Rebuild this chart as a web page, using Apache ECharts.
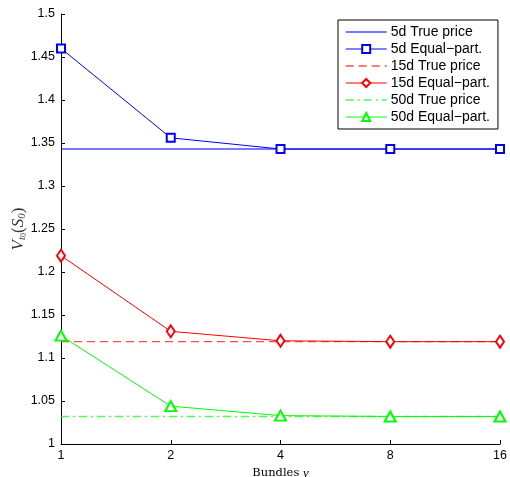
<!DOCTYPE html>
<html>
<head>
<meta charset="utf-8">
<script src="https://cdn.jsdelivr.net/npm/echarts@6/dist/echarts.min.js"></script>
<style>html,body{margin:0;padding:0;background:#fff}#c{width:510px;height:477px}</style>
</head>
<body>
<div id="c"></div>
<script>
const categories = ['1', '2', '4', '8', '16'];
const yTicks = [1, 1.05, 1.1, 1.15, 1.2, 1.25, 1.3, 1.35, 1.4, 1.45, 1.5];
const true5d = [1.343, 1.343, 1.343, 1.343, 1.343];
const eq5d = [1.460, 1.356, 1.343, 1.343, 1.343];
const true15d = [1.119, 1.119, 1.119, 1.119, 1.119];
const eq15d = [1.219, 1.131, 1.120, 1.119, 1.119];
const true50d = [1.032, 1.032, 1.032, 1.032, 1.032];
const eq50d = [1.126, 1.044, 1.033, 1.032, 1.032];

const FONT = 'Liberation Sans, Arial, sans-serif';
const chart = echarts.init(document.getElementById('c'), null, {renderer: 'canvas'});
function lineSeries(name, data, color, type, symbol, size) {
  return {
    name, type: 'line', data,
    symbol: symbol || 'none',
    symbolSize: size || 0,
    showSymbol: !!symbol,
    lineStyle: {color, width: symbol ? 1 : 1.4, type: type || 'solid', opacity: symbol ? 1 : 0.7},
    itemStyle: {color, borderColor: color, borderWidth: 0.9},
    emphasis: {disabled: true},
    animation: false,
    z: symbol ? 3 : 2
  };
}
const hidden = {opacity: 0};
chart.setOption({
  backgroundColor: '#fff',
  animation: false,
  grid: {left: 61, right: 10, top: 14, bottom: 33, outerBoundsMode: 'none', containLabel: false},
  legend: {
    left: 338, top: 20, orient: 'vertical',
    backgroundColor: '#fff', borderColor: '#000', borderWidth: 1,
    padding: [5, 8, 5, 7], itemGap: 3, itemWidth: 41, itemHeight: 10,
    itemStyle: {borderWidth: 1},
    lineStyle: {width: 1},
    textStyle: {fontFamily: FONT, fontSize: 14, lineHeight: 14, color: '#000', padding: [0, 0, 0, -1]},
    data: [
      {name: '5d True price', itemStyle: hidden, lineStyle: {width: 1.4}},
      {name: '5d Equal\u2212part.'},
      {name: '15d True price', itemStyle: hidden, lineStyle: {width: 1.4}},
      {name: '15d Equal\u2212part.'},
      {name: '50d True price', itemStyle: hidden, lineStyle: {width: 1.4}},
      {name: '50d Equal\u2212part.'}
    ]
  },
  xAxis: {
    type: 'category', data: categories, boundaryGap: false,
    axisLine: {lineStyle: {color: '#000', width: 1}},
    axisTick: {inside: true, length: 4, alignWithLabel: true, lineStyle: {color: '#000'}},
    axisLabel: {fontFamily: FONT, fontSize: 12.5, color: '#000', margin: 5},
    name: 'Bundles {i|\u03bd}', nameLocation: 'middle', nameGap: 20,
    nameTextStyle: {fontFamily: 'DejaVu Serif, Liberation Serif, serif', fontSize: 11.5, color: '#000',
      rich: {i: {fontFamily: 'Liberation Serif, serif', fontStyle: 'italic', fontSize: 13, color: '#000'}}},
    splitLine: {show: false}
  },
  yAxis: {
    type: 'value', min: 1, max: 1.5, interval: 0.05,
    axisLine: {show: true, lineStyle: {color: '#000', width: 1}},
    axisTick: {show: true, inside: true, length: 4, lineStyle: {color: '#000'}},
    axisLabel: {fontFamily: FONT, fontSize: 12.5, color: '#000', margin: 6,
      formatter: v => { const t = yTicks.find(x => Math.abs(x - v) < 1e-6); return t === undefined ? '' : String(t); }},
    splitLine: {show: false},
    name: '{v|V}{s|t}{ss|0}{p|(}{v|S}{s|0}{p|)}', nameLocation: 'middle', nameGap: 33, nameRotate: 90,
    nameMoveOverlap: false,
    nameTextStyle: {color: '#000', rich: {
      v: {fontFamily: 'Liberation Serif, serif', fontStyle: 'italic', fontSize: 17, color: '#333'},
      s: {fontFamily: 'Liberation Serif, serif', fontStyle: 'italic', fontSize: 11, color: '#333', verticalAlign: 'bottom', padding: [7, 0, 0, 0]},
      ss: {fontFamily: 'Liberation Serif, serif', fontSize: 8, color: '#333', verticalAlign: 'bottom', padding: [10, 0, 0, 0]},
      p: {fontFamily: 'Liberation Serif, serif', fontSize: 17, color: '#333'}
    }}
  },
  series: [
    lineSeries('5d True price', true5d, '#0000ff', 'solid'),
    lineSeries('5d Equal\u2212part.', eq5d, '#0000ff', 'solid', 'emptyRect', 8),
    lineSeries('15d True price', true15d, '#ff0000', [8, 5]),
    lineSeries('15d Equal\u2212part.', eq15d, '#ff0000', 'solid', 'emptyDiamond', [8, 12]),
    lineSeries('50d True price', true50d, '#00ff00', [8, 4, 2, 4]),
    lineSeries('50d Equal\u2212part.', eq50d, '#00ff00', 'solid', 'emptyTriangle', [11, 10])
  ]
});
</script>
</body>
</html>
